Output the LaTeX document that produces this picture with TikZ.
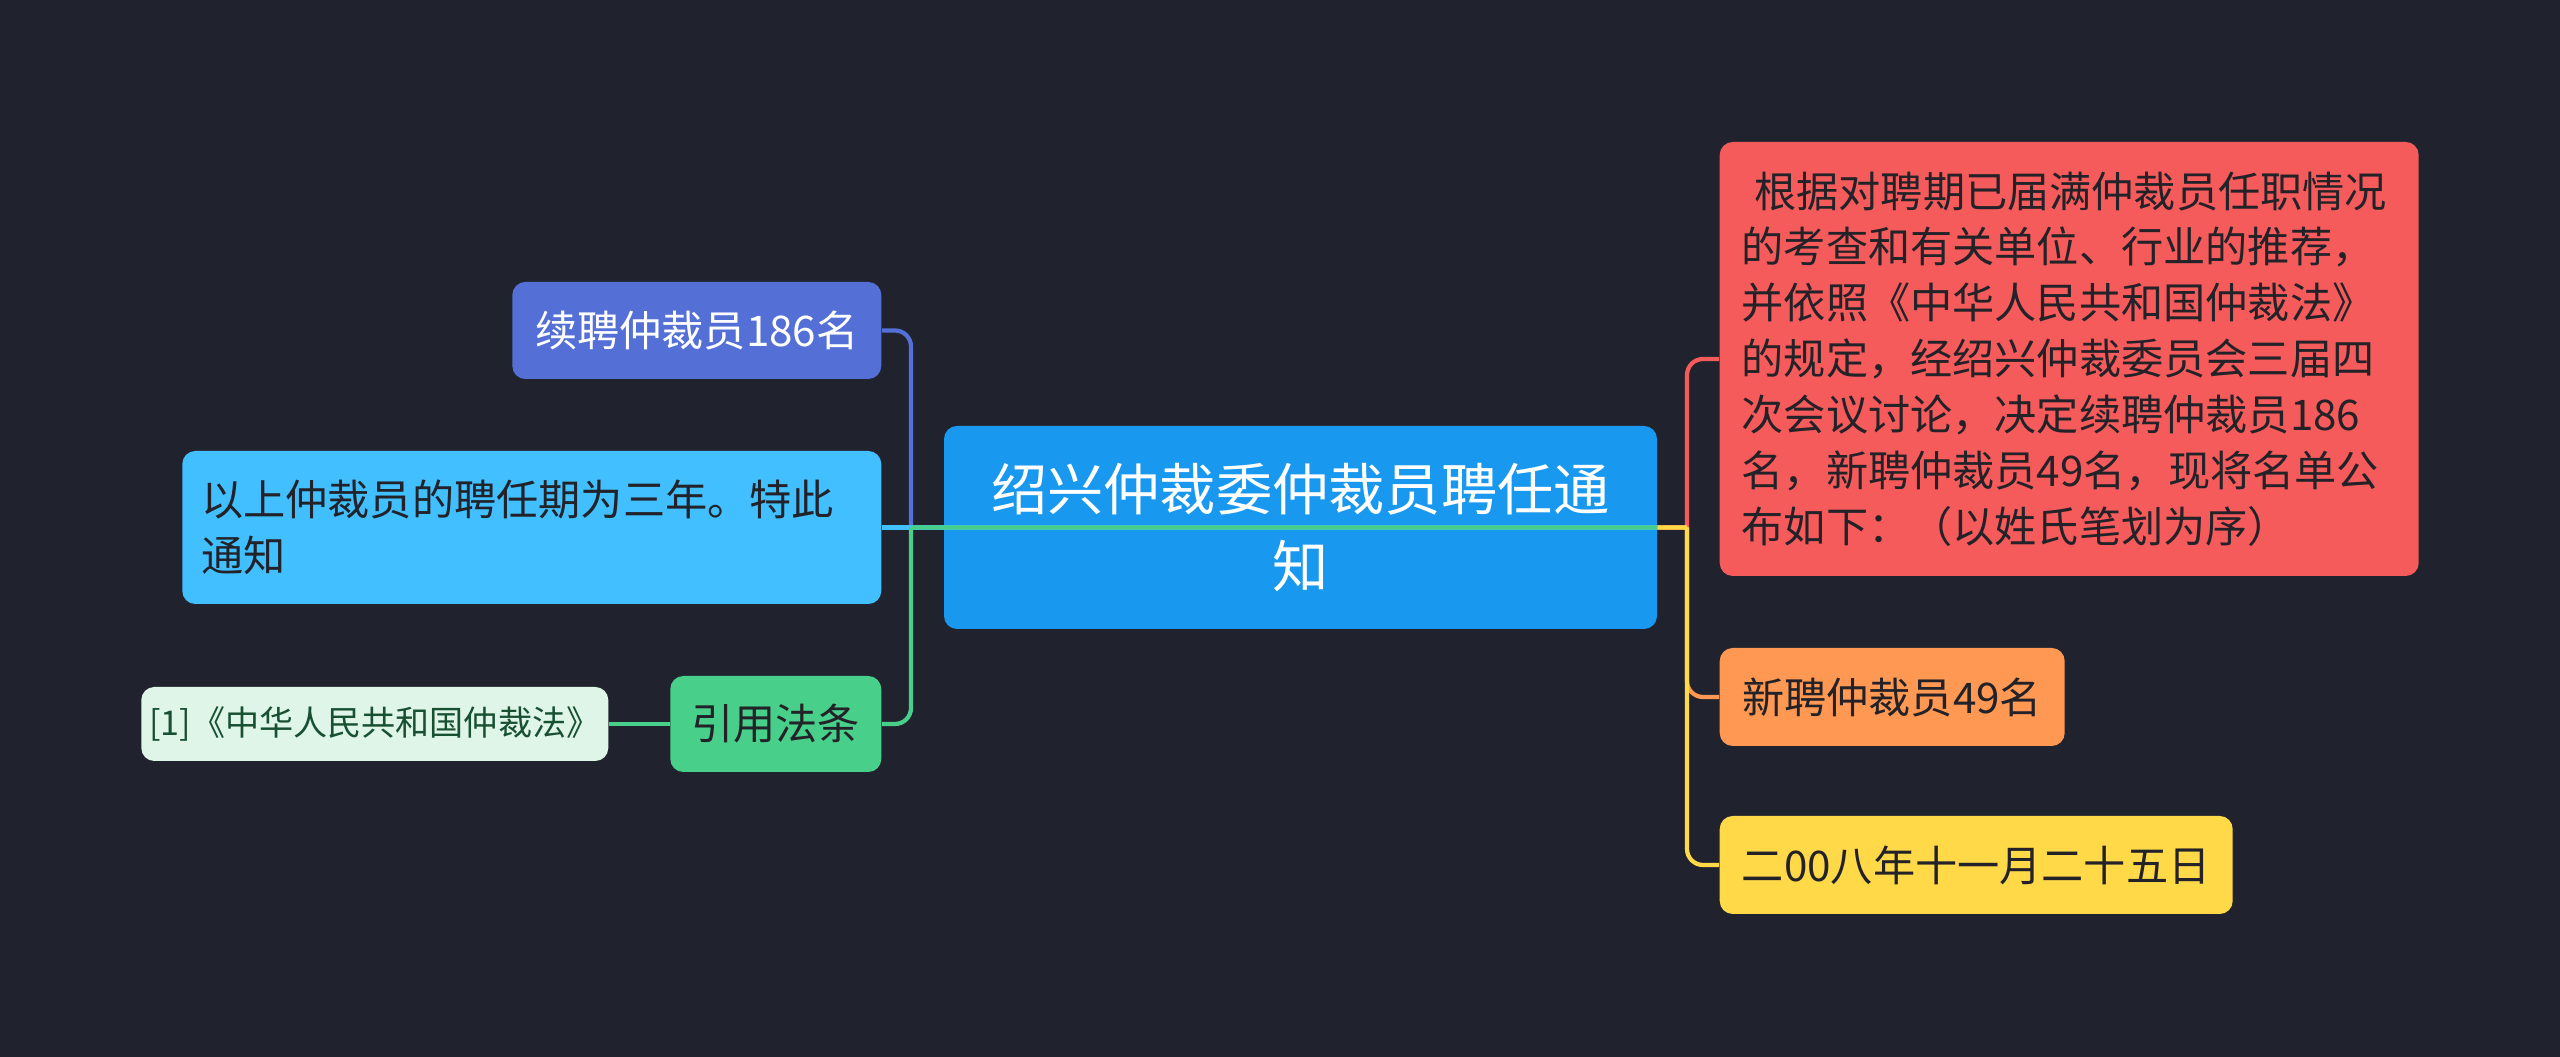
\documentclass[tikz,border=0pt]{standalone}
\usepackage{fontspec}
\setmainfont{Noto Sans CJK SC}
\definecolor{bgcolor}{RGB}{32,35,46}
\definecolor{rootcolor}{RGB}{25,152,240}
\definecolor{redcolor}{RGB}{246,91,91}
\definecolor{orangecolor}{RGB}{255,152,82}
\definecolor{yellowcolor}{RGB}{255,217,72}
\definecolor{bluecolor}{RGB}{84,112,214}
\definecolor{lbcolor}{RGB}{65,191,255}
\definecolor{greencolor}{RGB}{72,207,138}
\definecolor{palecolor}{RGB}{222,245,232}
\definecolor{darktext}{RGB}{34,34,40}
\definecolor{citetext}{RGB}{24,80,50}
\tikzset{
  topic/.style={rectangle, rounded corners=0.13cm, inner sep=0pt, text=darktext,
    font=\fontsize{12pt}{15.9pt}\selectfont},
  link/.style={line width=1.2pt},
}

\begin{document}
\begin{tikzpicture}
\fill[bgcolor] (0,0) rectangle (25.6,10.57);
\useasboundingbox (0,0) rectangle (25.6,10.57);
% root
\node[topic, fill=rootcolor, text=white, minimum width=7.13cm, minimum height=2.03cm, align=center, font=\fontsize{16pt}{21.8pt}\selectfont] (root) at (13.005,5.295) {绍兴仲裁委仲裁员聘任通\\知};
% right side
\node[topic, fill=redcolor, anchor=west, minimum width=6.99cm, minimum height=4.34cm, text width=6.55cm, align=left] (basis) at (17.19,6.98) {\hspace{0.3em}根据对聘期已届满仲裁员任职情况\\的考查和有关单位、行业的推荐，\\并依照《中华人民共和国仲裁法》\\的规定，经绍兴仲裁委员会三届四\\次会议讨论，决定续聘仲裁员186\\名，新聘仲裁员49名，现将名单公\\布如下：（以姓氏笔划为序）};
\node[topic, fill=orangecolor, anchor=west, minimum width=3.45cm, minimum height=0.98cm] (newhire) at (17.19,3.60) {新聘仲裁员49名};
\node[topic, fill=yellowcolor, anchor=west, minimum width=5.13cm, minimum height=0.98cm] (date) at (17.19,1.92) {二00八年十一月二十五日};
% left side
\node[topic, fill=bluecolor, text=white, anchor=east, minimum width=3.69cm, minimum height=0.97cm] (renew) at (8.82,7.265) {续聘仲裁员186名};
\node[topic, fill=lbcolor, anchor=east, minimum width=6.99cm, minimum height=1.53cm, text width=6.61cm, align=left] (notice) at (8.82,5.295) {以上仲裁员的聘任期为三年。特此\\通知};
\node[topic, fill=greencolor, anchor=east, minimum width=2.11cm, minimum height=0.96cm] (law) at (8.82,3.33) {引用法条};
\node[topic, fill=palecolor, text=citetext, anchor=east, minimum width=4.67cm, minimum height=0.74cm, font=\fontsize{9.7pt}{12pt}\selectfont] (cite) at (6.09,3.33) {[1]《中华人民共和国仲裁法》};
% connectors
\coordinate (trunkL) at (9.11,5.295);
\coordinate (trunkR) at (16.87,5.295);
\draw[link, draw=bluecolor] (root.east) -- (trunkL) (trunkL) [rounded corners=0.16cm] |- (renew.east);
\draw[link, draw=lbcolor] (root.east) -- (notice.east);
\draw[link, draw=greencolor] (root.east) -- (trunkL) (trunkL) [rounded corners=0.16cm] |- (law.east);
\draw[link, draw=greencolor] (law.west) -- (cite.east);
\draw[link, draw=redcolor] (root.east) -- (trunkR) (trunkR) [rounded corners=0.16cm] |- (basis.west);
\draw[link, draw=orangecolor] (root.east) -- (trunkR) (trunkR) [rounded corners=0.16cm] |- (newhire.west);
\draw[link, draw=yellowcolor] (root.east) -- (trunkR) (trunkR) [rounded corners=0.16cm] |- (date.west);
\end{tikzpicture}
\end{document}
